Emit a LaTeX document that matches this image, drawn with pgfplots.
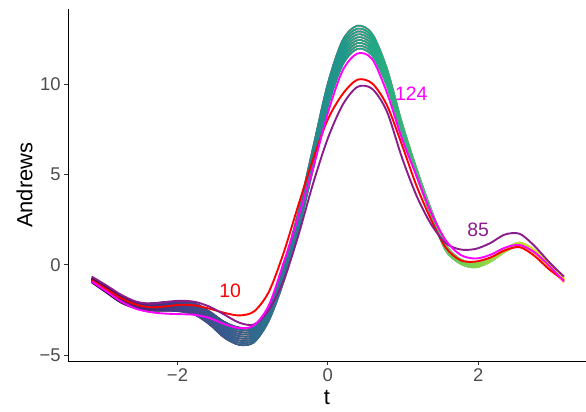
\documentclass[border=0pt]{standalone}
\usepackage{pgfplots}
\pgfplotsset{compat=1.18}
\usepackage{pgfplotstable}
\usepackage{fontspec}
\setmainfont{Liberation Sans}

% viridis stops, used for the gradient of the bundle
\definecolor{v0}{HTML}{440154}
\definecolor{v1}{HTML}{482475}
\definecolor{v2}{HTML}{414487}
\definecolor{v3}{HTML}{355F8D}
\definecolor{v4}{HTML}{2A788E}
\definecolor{v5}{HTML}{21918C}
\definecolor{v6}{HTML}{22A884}
\definecolor{v7}{HTML}{44BF70}
\definecolor{v8}{HTML}{7AD151}
\definecolor{v9}{HTML}{BDDF26}
\definecolor{v10}{HTML}{FDE725}
\definecolor{c10}{HTML}{FF0000}
\definecolor{c124}{HTML}{FF00FF}
\definecolor{c85}{HTML}{8B1C8B}
\definecolor{gray30}{HTML}{4D4D4D}
\definecolor{gray20}{HTML}{333333}

\pgfdeclarehorizontalshading{viridisH}{100bp}{color(0bp)=(v0); color(26.14bp)=(v0); color(30.91bp)=(v1); color(35.68bp)=(v2); color(40.46bp)=(v3); color(45.23bp)=(v4); color(50bp)=(v5); color(54.77bp)=(v6); color(59.54bp)=(v7); color(64.32bp)=(v8); color(69.09bp)=(v9); color(73.86bp)=(v10); color(100bp)=(v10)}

% the bundle of similar curves
\pgfplotstableread{
t b1 b2 b3 b4 b5 b6 b7 b8 b9
-3.1416 -0.97 -0.94 -0.91 -0.88 -0.85 -0.82 -0.79 -0.76 -0.73
-2.9452 -1.54 -1.50 -1.46 -1.42 -1.38 -1.34 -1.30 -1.26 -1.22
-2.7489 -2.10 -2.05 -2.00 -1.95 -1.90 -1.85 -1.80 -1.75 -1.70
-2.5525 -2.41 -2.37 -2.33 -2.29 -2.25 -2.21 -2.17 -2.13 -2.09
-2.3562 -2.53 -2.48 -2.43 -2.38 -2.33 -2.28 -2.23 -2.18 -2.13
-2.1598 -2.54 -2.48 -2.42 -2.36 -2.30 -2.24 -2.18 -2.12 -2.06
-1.9635 -2.58 -2.51 -2.44 -2.37 -2.30 -2.23 -2.16 -2.09 -2.02
-1.7671 -2.77 -2.69 -2.61 -2.53 -2.45 -2.37 -2.29 -2.21 -2.13
-1.5708 -3.31 -3.22 -3.13 -3.04 -2.95 -2.86 -2.77 -2.68 -2.59
-1.3744 -4.04 -3.93 -3.82 -3.71 -3.60 -3.49 -3.38 -3.27 -3.16
-1.1781 -4.43 -4.31 -4.19 -4.07 -3.95 -3.83 -3.71 -3.59 -3.47
-0.9817 -4.29 -4.18 -4.07 -3.96 -3.85 -3.74 -3.63 -3.52 -3.41
-0.7854 -3.10 -3.00 -2.90 -2.80 -2.70 -2.60 -2.50 -2.40 -2.30
-0.5890 -0.94 -0.83 -0.72 -0.61 -0.50 -0.39 -0.28 -0.17 -0.06
-0.3927 1.88 2.01 2.14 2.27 2.40 2.53 2.66 2.79 2.92
-0.1963 5.30 5.45 5.60 5.75 5.90 6.05 6.20 6.35 6.50
0.0000 8.76 8.92 9.08 9.24 9.40 9.56 9.72 9.88 10.04
0.1963 11.07 11.24 11.41 11.58 11.75 11.92 12.09 12.26 12.43
0.3927 11.96 12.12 12.28 12.44 12.60 12.76 12.92 13.08 13.24
0.5890 11.60 11.75 11.90 12.05 12.20 12.35 12.50 12.65 12.80
0.7854 9.92 10.04 10.16 10.28 10.40 10.52 10.64 10.76 10.88
0.9817 7.28 7.36 7.44 7.52 7.60 7.68 7.76 7.84 7.92
1.1781 4.95 5.00 5.05 5.10 5.15 5.20 5.25 5.30 5.35
1.3744 2.74 2.78 2.82 2.86 2.90 2.94 2.98 3.02 3.06
1.5708 0.79 0.83 0.87 0.91 0.95 0.99 1.03 1.07 1.11
1.7671 0.06 0.09 0.12 0.15 0.18 0.21 0.24 0.27 0.30
1.9635 -0.14 -0.11 -0.08 -0.05 -0.02 0.01 0.04 0.07 0.10
2.1598 0.17 0.19 0.21 0.23 0.25 0.27 0.29 0.31 0.33
2.3562 0.72 0.74 0.76 0.78 0.80 0.82 0.84 0.86 0.88
2.5525 1.07 1.09 1.11 1.13 1.15 1.17 1.19 1.21 1.23
2.7489 0.67 0.69 0.71 0.73 0.75 0.77 0.79 0.81 0.83
2.9452 -0.13 -0.11 -0.09 -0.07 -0.05 -0.03 -0.01 0.01 0.03
3.1416 -0.97 -0.94 -0.91 -0.88 -0.85 -0.82 -0.79 -0.76 -0.73
}\bundle

% the three highlighted observations
\pgfplotstableread{
t r10 r85 r124
-3.1416 -0.85 -0.65 -0.92
-2.9452 -1.35 -1.14 -1.47
-2.7489 -1.85 -1.66 -2.03
-2.5525 -2.20 -2.03 -2.43
-2.3562 -2.35 -2.15 -2.62
-2.1598 -2.30 -2.06 -2.70
-1.9635 -2.21 -1.99 -2.73
-1.7671 -2.25 -2.05 -2.77
-1.5708 -2.43 -2.32 -2.95
-1.3744 -2.66 -2.76 -3.28
-1.1781 -2.80 -3.20 -3.50
-0.9817 -2.58 -3.30 -3.35
-0.7854 -1.50 -2.50 -2.25
-0.5890 0.65 -0.88 0.10
-0.3927 3.30 1.62 2.65
-0.1963 5.85 4.50 5.35
0.0000 8.05 7.00 8.40
0.1963 9.45 8.85 10.75
0.3927 10.25 9.85 11.70
0.5890 10.05 9.75 11.40
0.7854 8.85 8.50 9.55
0.9817 6.70 6.00 7.05
1.1781 4.40 3.85 4.95
1.3744 2.50 2.25 2.90
1.5708 0.95 1.20 1.35
1.7671 0.25 0.85 0.55
1.9635 0.18 0.88 0.35
2.1598 0.40 1.20 0.55
2.3562 0.80 1.68 0.95
2.5525 0.98 1.72 1.10
2.7489 0.50 1.05 0.70
2.9452 -0.25 0.15 -0.05
3.1416 -0.85 -0.65 -0.92
}\marked

\begin{document}
\begin{tikzpicture}
\begin{axis}[
  scale only axis,
  width=517.8bp, height=352bp,
  xmin=-3.456, xmax=3.43,
  ymin=-5.33, ymax=14.15,
  axis x line*=bottom, axis y line*=left,
  axis line style={-, line width=0.8pt},
  axis background/.style={fill=white},
  xtick={-2,0,2}, xticklabels={−2,0,2},
  ytick={-5,0,5,10}, yticklabels={−5,0,5,10},
  tick align=outside, major tick length=4bp,
  tick style={gray20, line width=0.8pt},
  tick label style={font=\fontsize{18.5}{21}\selectfont, text=gray30},
  label style={font=\fontsize{22}{25}\selectfont},
  xlabel={t}, ylabel={Andrews},
  xlabel style={yshift=-2bp},
  bundle/.style={black, line width=1.7pt, smooth},
  mark=none,
]
\coordinate (O) at (rel axis cs:0,0);
\pgfplotsinvokeforeach{1,...,9}{
  \addplot[bundle] table[x=t, y=b#1] {\bundle};
}
% colour the black bundle along t with viridis
\shade[shading=viridisH, blend mode=lighten] (axis cs:-3.2916,-5.2) rectangle (axis cs:3.2916,14.05);

\addplot[c10, line width=1.9pt, smooth] table[x=t, y=r10] {\marked};
\addplot[c85, line width=1.9pt, smooth] table[x=t, y=r85] {\marked};
\addplot[c124, line width=1.9pt, smooth] table[x=t, y=r124] {\marked};

\node[text=c10, font=\fontsize{19.5}{22}\selectfont] at (axis cs:-1.30,-1.44) {10};
\node[text=c124, font=\fontsize{19.5}{22}\selectfont] at (axis cs:1.11,9.5) {124};
\node[text=c85, font=\fontsize{19.5}{22}\selectfont] at (axis cs:2.0,1.92) {85};
\end{axis}
\path (O) ++(-68.1bp,-50.7bp) rectangle ++(586bp,412bp);
\end{tikzpicture}
\end{document}
